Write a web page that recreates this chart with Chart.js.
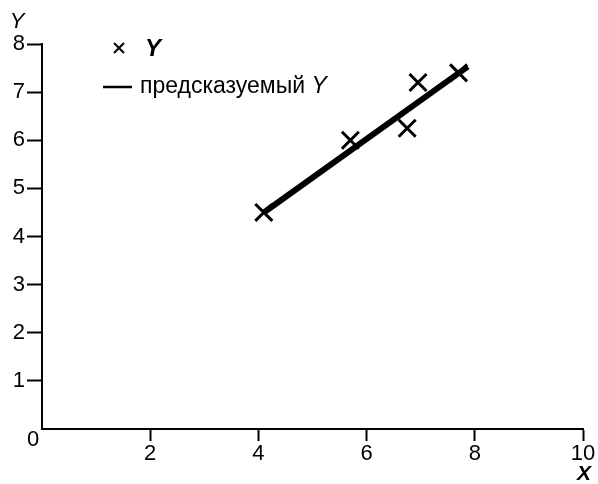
<!DOCTYPE html>
<html>
<head>
<meta charset="utf-8">
<script src="https://cdn.jsdelivr.net/npm/chart.js@4"></script>
<style>
  html, body { margin: 0; padding: 0; background: #fff; }
  canvas { display: block; }
</style>
</head>
<body>
<canvas id="chart" width="598" height="484"></canvas>
<script>
// observed points
const obsX = [4.1, 5.7, 6.75, 6.95, 7.7];
const obsY = [4.5, 6.0, 6.25, 7.2, 7.4];
// predicted line (end points)
const predX = [4.1, 7.87];
const predY = [4.5, 7.53];

const xTicks = [2, 4, 6, 8, 10];
const yTicks = [1, 2, 3, 4, 5, 6, 7, 8];

const FONT = "'Liberation Sans', Arial, sans-serif";

const extras = {
  id: "extras",
  afterDraw(chart) {
    const c = chart.ctx;
    const xs = chart.scales.x;
    const ys = chart.scales.y;
    c.save();
    c.fillStyle = "#000";
    c.strokeStyle = "#000";
    c.textAlign = "center";
    c.textBaseline = "middle";
    // axis titles
    c.font = "italic 22px " + FONT;
    c.fillText("Y", xs.left - 25, ys.top - 22);
    c.font = "italic bold 21px " + FONT;
    c.fillText("X", xs.right + 1, ys.bottom + 45);
    // origin label
    c.font = "22px " + FONT;
    c.fillText("0", xs.left - 9, ys.bottom + 11);

    // legend
    const lx = 119, ly1 = 48, ly2 = 87;
    c.lineWidth = 2;
    c.beginPath();
    c.moveTo(lx - 5, ly1 - 5); c.lineTo(lx + 5, ly1 + 5);
    c.moveTo(lx + 5, ly1 - 5); c.lineTo(lx - 5, ly1 + 5);
    c.stroke();
    c.textAlign = "left";
    c.font = "italic bold 24px " + FONT;
    c.fillText("Y", 145, ly1 + 1);

    c.lineWidth = 2.5;
    c.beginPath();
    c.moveTo(103, ly2); c.lineTo(132, ly2);
    c.stroke();
    c.font = "23px " + FONT;
    const lbl = "предсказуемый ";
    c.fillText(lbl, 140, ly2);
    const w = c.measureText(lbl).width;
    c.font = "italic 23px " + FONT;
    c.fillText("Y", 140 + w, ly2);
    c.restore();
  }
};

const hideZero = (ctx) => (ctx.tick && ctx.tick.value === 0 ? "rgba(0,0,0,0)" : "#000");

new Chart(document.getElementById("chart"), {
  type: "scatter",
  data: {
    datasets: [
      {
        label: "Y",
        data: obsX.map((x, i) => ({ x: x, y: obsY[i] })),
        pointStyle: "crossRot",
        pointRadius: 12,
        pointBorderWidth: 3,
        borderColor: "#000",
        backgroundColor: "#000",
        showLine: false,
        order: 1,
      },
      {
        label: "предсказуемый Y",
        data: predX.map((x, i) => ({ x: x, y: predY[i] })),
        showLine: true,
        borderColor: "#000",
        borderWidth: 6,
        pointRadius: 0,
        order: 0,
      },
    ],
  },
  options: {
    responsive: false,
    animation: false,
    layout: { padding: { top: 44, right: 12, left: 0, bottom: 0 } },
    plugins: {
      legend: { display: false },
      tooltip: { enabled: false },
    },
    scales: {
      x: {
        type: "linear",
        min: 0,
        max: 10,
        afterFit: (s) => { s.height = 55; },
        afterBuildTicks: (s) => { s.ticks = [0].concat(xTicks).map((v) => ({ value: v })); },
        ticks: {
          color: "#000",
          font: { family: FONT, size: 22 },
          padding: 0,
          maxRotation: 0,
          callback: (v) => (v === 0 ? "" : v),
        },
        grid: { drawOnChartArea: false, tickLength: 12, tickWidth: 2, tickColor: hideZero },
        border: { color: "#000", width: 2 },
      },
      y: {
        type: "linear",
        min: 0,
        max: 8,
        afterFit: (s) => { s.width = 42; },
        afterBuildTicks: (s) => { s.ticks = [0].concat(yTicks).map((v) => ({ value: v })); },
        ticks: {
          color: "#000",
          font: { family: FONT, size: 22 },
          padding: 2,
          callback: (v) => (v === 0 ? "" : v),
        },
        grid: { drawOnChartArea: false, tickLength: 15, tickWidth: 2, tickColor: hideZero },
        border: { color: "#000", width: 2 },
      },
    },
  },
  plugins: [extras],
});
</script>
</body>
</html>
